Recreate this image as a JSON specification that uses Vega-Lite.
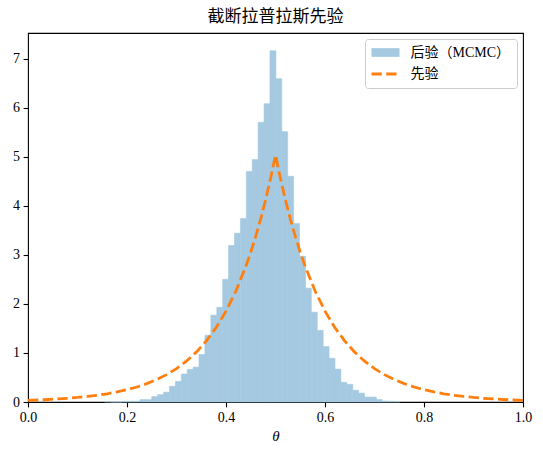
{
  "$schema": "https://vega.github.io/schema/vega-lite/v6.json",
  "width": 495,
  "height": 369,
  "autosize": "none",
  "padding": {"left": 28, "top": 33, "right": 20, "bottom": 53},
  "background": "white",
  "title": {
    "text": "截断拉普拉斯先验",
    "font": "Liberation Serif, Noto Sans CJK SC",
    "fontSize": 17,
    "fontWeight": "normal",
    "color": "black",
    "anchor": "middle",
    "offset": 7
  },
  "config": {
    "view": {"stroke": "black", "strokeWidth": 1.1},
    "axis": {
      "domain": false,
      "grid": false,
      "tickColor": "black",
      "tickSize": 4.9,
      "tickWidth": 1.1,
      "labelColor": "black",
      "labelFont": "Liberation Serif",
      "labelFontSize": 14,
      "labelPadding": 3.5,
      "labelFlush": false,
      "labelOverlap": false
    }
  },
  "datasets": {
    "hist": [
      {"lo": 0.1545, "hi": 0.1664, "density": 0.01},
      {"lo": 0.1664, "hi": 0.1784, "density": 0},
      {"lo": 0.1784, "hi": 0.1903, "density": 0},
      {"lo": 0.1903, "hi": 0.2023, "density": 0.015},
      {"lo": 0.2023, "hi": 0.2142, "density": 0.015},
      {"lo": 0.2142, "hi": 0.2261, "density": 0.015},
      {"lo": 0.2261, "hi": 0.2381, "density": 0.047},
      {"lo": 0.2381, "hi": 0.25, "density": 0.047},
      {"lo": 0.25, "hi": 0.262, "density": 0.11},
      {"lo": 0.262, "hi": 0.2739, "density": 0.15},
      {"lo": 0.2739, "hi": 0.2858, "density": 0.2},
      {"lo": 0.2858, "hi": 0.2978, "density": 0.32},
      {"lo": 0.2978, "hi": 0.3097, "density": 0.42},
      {"lo": 0.3097, "hi": 0.3217, "density": 0.57},
      {"lo": 0.3217, "hi": 0.3336, "density": 0.665},
      {"lo": 0.3336, "hi": 0.3455, "density": 0.71},
      {"lo": 0.3455, "hi": 0.3575, "density": 0.97},
      {"lo": 0.3575, "hi": 0.3694, "density": 1.36},
      {"lo": 0.3694, "hi": 0.3814, "density": 1.77},
      {"lo": 0.3814, "hi": 0.3933, "density": 1.93},
      {"lo": 0.3933, "hi": 0.4052, "density": 2.5},
      {"lo": 0.4052, "hi": 0.4172, "density": 3.19},
      {"lo": 0.4172, "hi": 0.4291, "density": 3.44},
      {"lo": 0.4291, "hi": 0.4411, "density": 3.74},
      {"lo": 0.4411, "hi": 0.453, "density": 4.7},
      {"lo": 0.453, "hi": 0.4649, "density": 4.94},
      {"lo": 0.4649, "hi": 0.4769, "density": 5.7},
      {"lo": 0.4769, "hi": 0.4888, "density": 6.08},
      {"lo": 0.4888, "hi": 0.5008, "density": 7.16},
      {"lo": 0.5008, "hi": 0.5127, "density": 6.59},
      {"lo": 0.5127, "hi": 0.5246, "density": 5.51},
      {"lo": 0.5246, "hi": 0.5366, "density": 4.6},
      {"lo": 0.5366, "hi": 0.5485, "density": 3.64},
      {"lo": 0.5485, "hi": 0.5605, "density": 2.97},
      {"lo": 0.5605, "hi": 0.5724, "density": 2.32},
      {"lo": 0.5724, "hi": 0.5843, "density": 1.83},
      {"lo": 0.5843, "hi": 0.5963, "density": 1.46},
      {"lo": 0.5963, "hi": 0.6082, "density": 1.13},
      {"lo": 0.6082, "hi": 0.6202, "density": 0.89},
      {"lo": 0.6202, "hi": 0.6321, "density": 0.67},
      {"lo": 0.6321, "hi": 0.644, "density": 0.4},
      {"lo": 0.644, "hi": 0.656, "density": 0.36},
      {"lo": 0.656, "hi": 0.6679, "density": 0.24},
      {"lo": 0.6679, "hi": 0.6799, "density": 0.18},
      {"lo": 0.6799, "hi": 0.6918, "density": 0.1},
      {"lo": 0.6918, "hi": 0.7037, "density": 0.1},
      {"lo": 0.7037, "hi": 0.7157, "density": 0.05},
      {"lo": 0.7157, "hi": 0.7276, "density": 0.02},
      {"lo": 0.7276, "hi": 0.7396, "density": 0.015},
      {"lo": 0.7396, "hi": 0.7515, "density": 0.01}
    ],
    "prior": [
      {"theta": 0.0, "density": 0.034},
      {"theta": 0.02, "density": 0.041},
      {"theta": 0.04, "density": 0.051},
      {"theta": 0.06, "density": 0.062},
      {"theta": 0.08, "density": 0.076},
      {"theta": 0.1, "density": 0.092},
      {"theta": 0.12, "density": 0.113},
      {"theta": 0.14, "density": 0.138},
      {"theta": 0.16, "density": 0.168},
      {"theta": 0.18, "density": 0.205},
      {"theta": 0.2, "density": 0.251},
      {"theta": 0.22, "density": 0.306},
      {"theta": 0.24, "density": 0.374},
      {"theta": 0.26, "density": 0.457},
      {"theta": 0.28, "density": 0.558},
      {"theta": 0.3, "density": 0.681},
      {"theta": 0.32, "density": 0.832},
      {"theta": 0.34, "density": 1.016},
      {"theta": 0.36, "density": 1.241},
      {"theta": 0.38, "density": 1.516},
      {"theta": 0.4, "density": 1.852},
      {"theta": 0.42, "density": 2.262},
      {"theta": 0.44, "density": 2.763},
      {"theta": 0.45, "density": 3.053},
      {"theta": 0.46, "density": 3.374},
      {"theta": 0.47, "density": 3.729},
      {"theta": 0.48, "density": 4.122},
      {"theta": 0.49, "density": 4.555},
      {"theta": 0.5, "density": 5.034},
      {"theta": 0.51, "density": 4.555},
      {"theta": 0.52, "density": 4.122},
      {"theta": 0.53, "density": 3.729},
      {"theta": 0.54, "density": 3.374},
      {"theta": 0.55, "density": 3.053},
      {"theta": 0.56, "density": 2.763},
      {"theta": 0.58, "density": 2.262},
      {"theta": 0.6, "density": 1.852},
      {"theta": 0.62, "density": 1.516},
      {"theta": 0.64, "density": 1.241},
      {"theta": 0.66, "density": 1.016},
      {"theta": 0.68, "density": 0.832},
      {"theta": 0.7, "density": 0.681},
      {"theta": 0.72, "density": 0.558},
      {"theta": 0.74, "density": 0.457},
      {"theta": 0.76, "density": 0.374},
      {"theta": 0.78, "density": 0.306},
      {"theta": 0.8, "density": 0.251},
      {"theta": 0.82, "density": 0.205},
      {"theta": 0.84, "density": 0.168},
      {"theta": 0.86, "density": 0.138},
      {"theta": 0.88, "density": 0.113},
      {"theta": 0.9, "density": 0.092},
      {"theta": 0.92, "density": 0.076},
      {"theta": 0.94, "density": 0.062},
      {"theta": 0.96, "density": 0.051},
      {"theta": 0.98, "density": 0.041},
      {"theta": 1.0, "density": 0.034}
    ]
  },
  "layer": [
    {
      "data": {"name": "hist"},
      "mark": {"type": "rect", "opacity": 1, "stroke": "#a5c9e1", "strokeWidth": 0.6},
      "encoding": {
        "x": {
          "field": "lo",
          "type": "quantitative",
          "scale": {"domain": [0, 1], "nice": false, "zero": false},
          "axis": {
            "values": [0, 0.2, 0.4, 0.6, 0.8, 1.0],
            "format": ".1f",
            "title": "θ",
            "titleFont": "Liberation Serif",
            "titleFontStyle": "italic",
            "titleFontWeight": "normal",
            "titleFontSize": 15,
            "titleColor": "black",
            "titlePadding": 4
          }
        },
        "x2": {"field": "hi"},
        "y": {
          "field": "density",
          "type": "quantitative",
          "scale": {"domain": [0, 7.52], "nice": false},
          "axis": {"values": [0, 1, 2, 3, 4, 5, 6, 7], "title": null}
        },
        "y2": {"datum": 0},
        "color": {
          "datum": "后验（MCMC）",
          "type": "nominal",
          "scale": {
            "domain": ["后验（MCMC）", "先验"],
            "range": ["#a5c9e1", "#ff7f0e"]
          },
          "legend": {
            "title": null,
            "orient": "top-right",
            "offset": 6,
            "padding": 6.5,
            "rowPadding": 7.5,
            "cornerRadius": 3,
            "strokeColor": "#cccccc",
            "fillColor": "rgba(255,255,255,0.8)",
            "labelFont": "Liberation Serif, Noto Sans CJK SC",
            "labelFontSize": 14,
            "labelColor": "black",
            "labelOffset": 25,
            "symbolSize": 196,
            "encoding": {
              "symbols": {
                "shape": {"value": {"expr": "datum.value == '先验' ? 'M-1,0H3' : 'M-1,-0.62H3V0.62H-1Z'"}},
                "strokeWidth": {"value": {"expr": "datum.value == '先验' ? 2.78 : 0"}},
                "strokeDash": {"value": {"expr": "datum.value == '先验' ? [10.3, 4.4] : [1, 0]"}},
                "opacity": {"value": 1}
              }
            }
          }
        }
      }
    },
    {
      "data": {"name": "prior"},
      "mark": {"type": "line", "strokeWidth": 2.78, "strokeDash": [10.3, 4.4]},
      "encoding": {
        "x": {"field": "theta", "type": "quantitative"},
        "y": {"field": "density", "type": "quantitative"},
        "color": {"datum": "先验", "type": "nominal"}
      }
    }
  ]
}
